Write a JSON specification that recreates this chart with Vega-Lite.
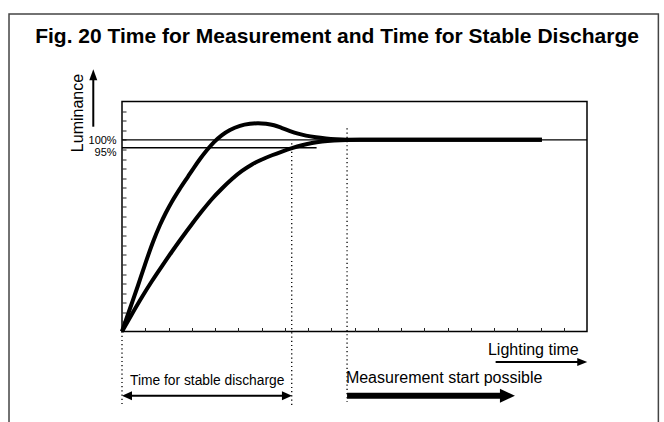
{
  "$schema": "https://vega.github.io/schema/vega-lite/v6.json",
  "width": 465,
  "height": 230,
  "autosize": "none",
  "padding": {"left": 122, "top": 101.5, "right": 77, "bottom": 90.5},
  "background": "white",
  "config": {"view": {"stroke": "#000", "strokeWidth": 1.5}},
  "datasets": {
    "curves": [
      {"s": "fast", "x": 0, "y": 0},
      {"s": "fast", "x": 0.344, "y": 2.4},
      {"s": "fast", "x": 0.688, "y": 4.8},
      {"s": "fast", "x": 0.989, "y": 6.99},
      {"s": "fast", "x": 1.333, "y": 9.34},
      {"s": "fast", "x": 1.634, "y": 11.11},
      {"s": "fast", "x": 1.892, "y": 12.42},
      {"s": "fast", "x": 2.151, "y": 13.57},
      {"s": "fast", "x": 2.495, "y": 14.92},
      {"s": "fast", "x": 2.839, "y": 16.17},
      {"s": "fast", "x": 3.097, "y": 17.11},
      {"s": "fast", "x": 3.355, "y": 18.0},
      {"s": "fast", "x": 3.656, "y": 18.94},
      {"s": "fast", "x": 3.957, "y": 19.77},
      {"s": "fast", "x": 4.301, "y": 20.5},
      {"s": "fast", "x": 4.645, "y": 21.03},
      {"s": "fast", "x": 5.075, "y": 21.46},
      {"s": "fast", "x": 5.505, "y": 21.67},
      {"s": "fast", "x": 5.849, "y": 21.73},
      {"s": "fast", "x": 6.194, "y": 21.67},
      {"s": "fast", "x": 6.538, "y": 21.52},
      {"s": "fast", "x": 6.882, "y": 21.23},
      {"s": "fast", "x": 7.226, "y": 20.92},
      {"s": "fast", "x": 7.57, "y": 20.65},
      {"s": "fast", "x": 7.914, "y": 20.44},
      {"s": "fast", "x": 8.344, "y": 20.26},
      {"s": "fast", "x": 8.774, "y": 20.14},
      {"s": "fast", "x": 9.204, "y": 20.06},
      {"s": "fast", "x": 9.677, "y": 20.01},
      {"s": "fast", "x": 10.237, "y": 20},
      {"s": "fast", "x": 18.06, "y": 20},
      {"s": "slow", "x": 0, "y": 0},
      {"s": "slow", "x": 0.43, "y": 1.83},
      {"s": "slow", "x": 0.86, "y": 3.6},
      {"s": "slow", "x": 1.29, "y": 5.27},
      {"s": "slow", "x": 1.72, "y": 6.83},
      {"s": "slow", "x": 2.151, "y": 8.35},
      {"s": "slow", "x": 2.581, "y": 9.81},
      {"s": "slow", "x": 3.011, "y": 11.22},
      {"s": "slow", "x": 3.441, "y": 12.57},
      {"s": "slow", "x": 3.871, "y": 13.83},
      {"s": "slow", "x": 4.301, "y": 14.92},
      {"s": "slow", "x": 4.731, "y": 15.91},
      {"s": "slow", "x": 5.161, "y": 16.75},
      {"s": "slow", "x": 5.591, "y": 17.43},
      {"s": "slow", "x": 6.022, "y": 17.95},
      {"s": "slow", "x": 6.452, "y": 18.39},
      {"s": "slow", "x": 6.882, "y": 18.78},
      {"s": "slow", "x": 7.312, "y": 19.13},
      {"s": "slow", "x": 7.742, "y": 19.43},
      {"s": "slow", "x": 8.172, "y": 19.67},
      {"s": "slow", "x": 8.602, "y": 19.83},
      {"s": "slow", "x": 9.118, "y": 19.94},
      {"s": "slow", "x": 9.677, "y": 19.99},
      {"s": "slow", "x": 10.237, "y": 20},
      {"s": "slow", "x": 18.06, "y": 20}
    ]
  },
  "encoding": {
    "x": {
      "field": "x", "type": "quantitative",
      "scale": {"domain": [0, 20], "nice": false, "zero": false},
      "axis": {"title": null, "labels": false, "domain": false, "grid": false, "ticks": true, "tickSize": -4, "tickColor": "#222", "tickWidth": 1,
        "values": [1,2,3,4,5,6,7,8,9,10,11,12,13,14,15,16,17,18,19]}
    },
    "y": {
      "field": "y", "type": "quantitative",
      "scale": {"domain": [0, 24], "nice": false, "zero": false},
      "axis": {"title": null, "labels": false, "domain": false, "grid": false, "ticks": true, "tickSize": -4, "tickColor": "#222", "tickWidth": 1,
        "values": [1,2,3,4,5,6,7,8,9,10,11,12,13,14,15,16,17,18,19,20,21,22,23]}
    }
  },
  "layer": [
    {
      "data": {"values": [{"x": -4.86, "x2": 23.07, "y": 33.13, "y2": -12}]},
      "mark": {"type": "rect", "fillOpacity": 0, "stroke": "#444", "strokeWidth": 1.5},
      "encoding": {"x2": {"field": "x2"}, "y2": {"field": "y2"}}
    },
    {
      "data": {"values": [{"x": 0, "x2": 20, "y": 20}, {"x": 0, "x2": 8.37, "y": 19.18}]},
      "mark": {"type": "rule", "color": "#000", "strokeWidth": 1.4},
      "encoding": {"x2": {"field": "x2"}}
    },
    {
      "data": {"name": "curves"},
      "mark": {"type": "line", "color": "#000", "strokeWidth": 4, "interpolate": "monotone", "strokeCap": "butt"},
      "encoding": {"detail": {"field": "s"}}
    },
    {
      "data": {"values": [{"x": 0, "y": 0, "y2": -7.67}, {"x": 7.3, "y": 19.64, "y2": -7.67}, {"x": 9.68, "y": 21.2, "y2": -7.36}]},
      "mark": {"type": "rule", "color": "#000", "strokeWidth": 1.3, "strokeDash": [1.2, 3]},
      "encoding": {"y2": {"field": "y2"}}
    },
    {
      "data": {"values": [{"x": -1.235, "y": 21.37, "y2": 26.6}]},
      "mark": {"type": "rule", "color": "#000", "strokeWidth": 2},
      "encoding": {"y2": {"field": "y2"}}
    },
    {
      "data": {"values": [{"x": 16.07, "x2": 19.7, "y": -3.18}, {"x": 0.3, "x2": 7.0, "y": -6.7}]},
      "mark": {"type": "rule", "color": "#000", "strokeWidth": 2},
      "encoding": {"x2": {"field": "x2"}}
    },
    {
      "data": {"values": [{"x": 9.68, "x2": 16.4, "y": -6.7}]},
      "mark": {"type": "rule", "color": "#000", "strokeWidth": 6},
      "encoding": {"x2": {"field": "x2"}}
    },
    {
      "data": {"values": [
        {"x": -1.235, "y": 27.36, "dir": "up"},
        {"x": 20.01, "y": -3.18, "dir": "right"},
        {"x": 0, "y": -6.7, "dir": "left"},
        {"x": 7.31, "y": -6.7, "dir": "right2"},
        {"x": 16.9, "y": -6.7, "dir": "big"}
      ]},
      "mark": {"type": "point", "filled": true, "color": "#000", "opacity": 1, "size": 4, "strokeWidth": 0},
      "encoding": {
        "shape": {"field": "dir", "legend": null, "scale": {
          "domain": ["up", "right", "left", "right2", "big"],
          "range": ["M0,0L-4,11L4,11Z", "M0,0L-10,-4L-10,4Z", "M0,0L10,-4.5L10,4.5Z", "M0,0L-10,-4.5L-10,4.5Z", "M0,0L-15,-7L-15,7Z"]
        }}
      }
    },
    {
      "data": {"values": [{"x": 9.25, "y": 30.1, "t": "Fig. 20  Time for Measurement and Time for Stable Discharge"}]},
      "mark": {"type": "text", "font": "Liberation Sans", "fontWeight": "bold", "fontSize": 21, "align": "center", "baseline": "alphabetic", "color": "#000"},
      "encoding": {"text": {"field": "t"}}
    },
    {
      "data": {"values": [{"x": -1.665, "y": 22.8, "t": "Luminance"}]},
      "mark": {"type": "text", "font": "Liberation Sans", "fontSize": 16, "angle": 270, "align": "center", "baseline": "alphabetic", "color": "#000"},
      "encoding": {"text": {"field": "t"}}
    },
    {
      "data": {"values": [{"x": -0.23, "y": 19.56, "t": "100%"}, {"x": -0.23, "y": 18.31, "t": "95%"}]},
      "mark": {"type": "text", "font": "Liberation Sans", "fontSize": 11, "align": "right", "baseline": "alphabetic", "color": "#000"},
      "encoding": {"text": {"field": "t"}}
    },
    {
      "data": {"values": [{"x": 15.74, "y": -2.45, "t": "Lighting time"}, {"x": 9.63, "y": -5.41, "t": "Measurement start possible"}]},
      "mark": {"type": "text", "font": "Liberation Sans", "fontSize": 16, "align": "left", "baseline": "alphabetic", "color": "#000"},
      "encoding": {"text": {"field": "t"}}
    },
    {
      "data": {"values": [{"x": 0.344, "y": -5.58, "t": "Time for stable discharge"}]},
      "mark": {"type": "text", "font": "Liberation Sans", "fontSize": 13.8, "align": "left", "baseline": "alphabetic", "color": "#000"},
      "encoding": {"text": {"field": "t"}}
    }
  ]
}
